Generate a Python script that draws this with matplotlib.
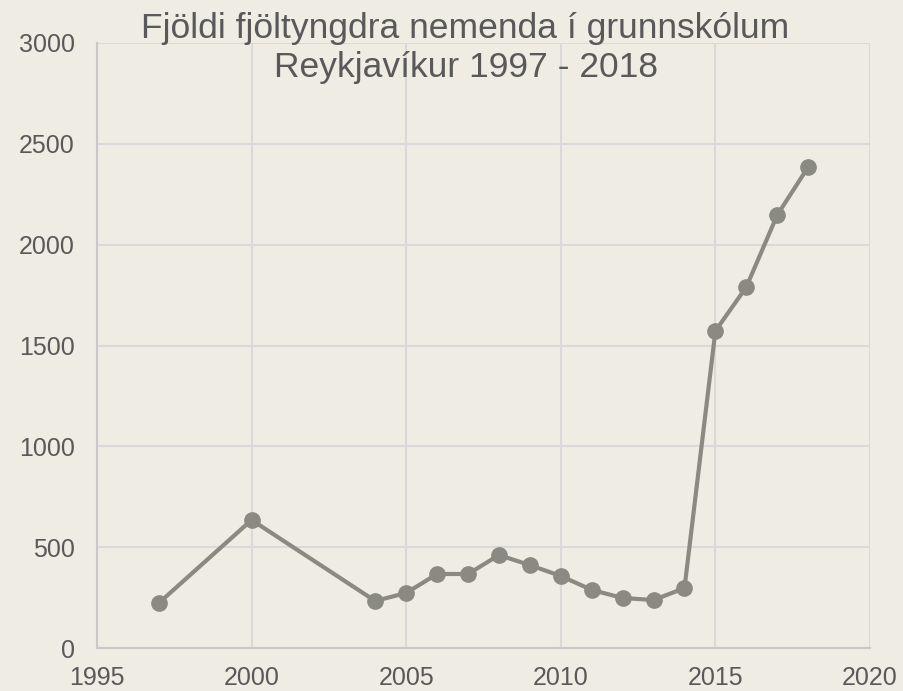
import matplotlib.pyplot as plt

years = [1997, 2000, 2004, 2005, 2006, 2007, 2008, 2009, 2010, 2011, 2012, 2013, 2014, 2015, 2016, 2017, 2018]
students = [223, 635, 233, 273, 367, 367, 461, 411, 357, 288, 248, 238, 297, 1572, 1790, 2147, 2385]

bg = '#EFECE4'
grey = '#8A8A82'

plt.rcParams['font.family'] = ['Liberation Sans', 'DejaVu Sans']

fig = plt.figure(figsize=(9.04, 6.91), dpi=100, facecolor=bg)
ax = fig.add_axes([97/904, 1 - 648/691, (870-97)/904, (648-43)/691])
ax.set_facecolor(bg)

ax.plot(years, students, color=grey, lw=3, marker='o', ms=11, zorder=3)

ax.set_xlim(1995, 2020)
ax.set_ylim(0, 3000)
ax.set_xticks(range(1995, 2021, 5))
ax.set_yticks(range(0, 3001, 500))
ax.grid(True, color='#D9D9D9', lw=1.5)
for s in ['top', 'right']:
    ax.spines[s].set_visible(False)
for s in ['left', 'bottom']:
    ax.spines[s].set_color('#C8C8C8')
    ax.spines[s].set_linewidth(1.5)
ax.tick_params(length=0, labelsize=18, colors='#595959')
ax.tick_params(axis='x', pad=13)
ax.tick_params(axis='y', pad=16)

fig.text(0.515, 0.983, 'Fjöldi fjöltyngdra nemenda í grunnskólum\nReykjavíkur 1997 - 2018',
         ha='center', va='top', fontsize=25.5, color='#595959', linespacing=1.25)

fig.savefig('out.png', dpi=100, facecolor=bg)
